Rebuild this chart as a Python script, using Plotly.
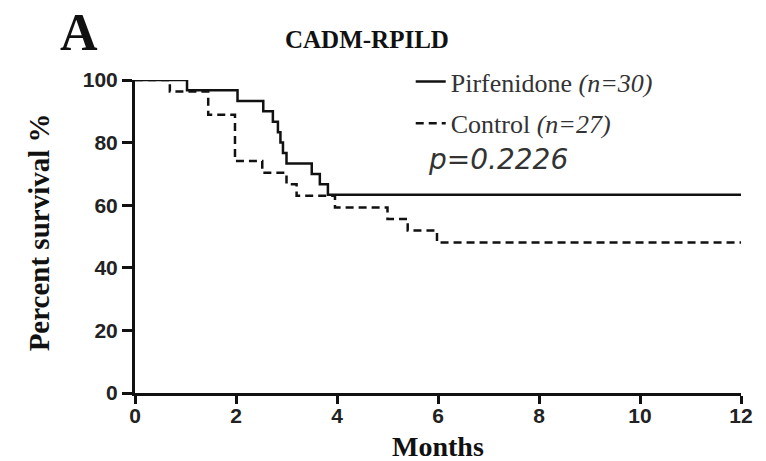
import plotly.graph_objects as go

# Kaplan-Meier step data (months, percent survival)
pirf_months = [0, 1.03, 2.03, 2.54, 2.73, 2.83, 2.88, 2.93, 3.0, 3.5, 3.66, 3.82, 12]
pirf_surv = [100, 96.7, 93.3, 90.0, 86.7, 83.3, 80.0, 76.7, 73.3, 70.0, 66.7, 63.3, 63.3]

ctrl_months = [0, 0.69, 1.45, 1.98, 2.52, 3.0, 3.2, 3.96, 5.0, 5.4, 5.98, 12]
ctrl_surv = [100, 96.3, 88.9, 74.1, 70.4, 66.7, 63.0, 59.3, 55.6, 51.9, 48.1, 48.1]

x_ticks = [0, 2, 4, 6, 8, 10, 12]
y_ticks = [0, 20, 40, 60, 80, 100]

fig = go.Figure()
fig.add_trace(go.Scatter(
    x=pirf_months, y=pirf_surv, mode="lines", line_shape="hv",
    line=dict(color="#111", width=2.5),
    name="Pirfenidone <i>(n=30)</i>", legendgroup="a", cliponaxis=False))
fig.add_trace(go.Scatter(
    x=ctrl_months, y=ctrl_surv, mode="lines", line_shape="hv",
    line=dict(color="#111", width=2.5, dash="8px,5px"),
    name="Control <i>(n=27)</i>", legendgroup="b", cliponaxis=False))

axis_font = dict(family="Liberation Sans, Arial", size=21, color="#222", weight="bold")
serif = "Liberation Serif, Times New Roman"

fig.update_layout(
    width=766, height=461,
    margin=dict(l=135, r=25, t=80, b=68),
    paper_bgcolor="white", plot_bgcolor="white",
    showlegend=True,
    legend=dict(x=0.455, y=1.07, xanchor="left", yanchor="top",
                font=dict(family=serif, size=26, color="#333"),
                tracegroupgap=5, bgcolor="rgba(0,0,0,0)"),
    xaxis=dict(range=[0, 12], tickvals=x_ticks, ticktext=[str(v) for v in x_ticks],
               showline=True, linecolor="#111", linewidth=3, mirror=False,
               ticks="outside", ticklen=8, tickwidth=2.5, tickcolor="#111",
               ticklabelstandoff=-6,
               showgrid=False, zeroline=False, tickfont=axis_font),
    yaxis=dict(range=[0, 100], tickvals=y_ticks, ticktext=[str(v) for v in y_ticks],
               showline=True, linecolor="#111", linewidth=3, mirror=False,
               ticks="outside", ticklen=10, tickwidth=2.5, tickcolor="#111",
               showgrid=False, zeroline=False, tickfont=axis_font),
    annotations=[
        dict(text="A", x=-0.092, y=1.153, xref="paper", yref="paper", showarrow=False,
             xanchor="center", yanchor="middle",
             font=dict(family=serif, size=52, color="#111", weight="bold")),
        dict(text="CADM-RPILD", x=0.383, y=1.128, xref="paper", yref="paper", showarrow=False,
             xanchor="center", yanchor="middle",
             font=dict(family=serif, size=25, color="#111", weight="bold")),
        dict(text="Months", x=0.5, y=-0.17, xref="paper", yref="paper", showarrow=False,
             xanchor="center", yanchor="middle",
             font=dict(family=serif, size=28, color="#111", weight="bold")),
        dict(text="Percent survival %", x=-0.158, y=0.514, xref="paper", yref="paper",
             showarrow=False, textangle=-90, xanchor="center", yanchor="middle",
             font=dict(family=serif, size=29, color="#111", weight="bold")),
        dict(text="<i>p=0.2226</i>", x=0.48, y=0.745, xref="paper", yref="paper", showarrow=False,
             xanchor="left", yanchor="middle",
             font=dict(family="DejaVu Sans", size=28, color="#333")),
    ],
)

fig.write_html("out.html")
